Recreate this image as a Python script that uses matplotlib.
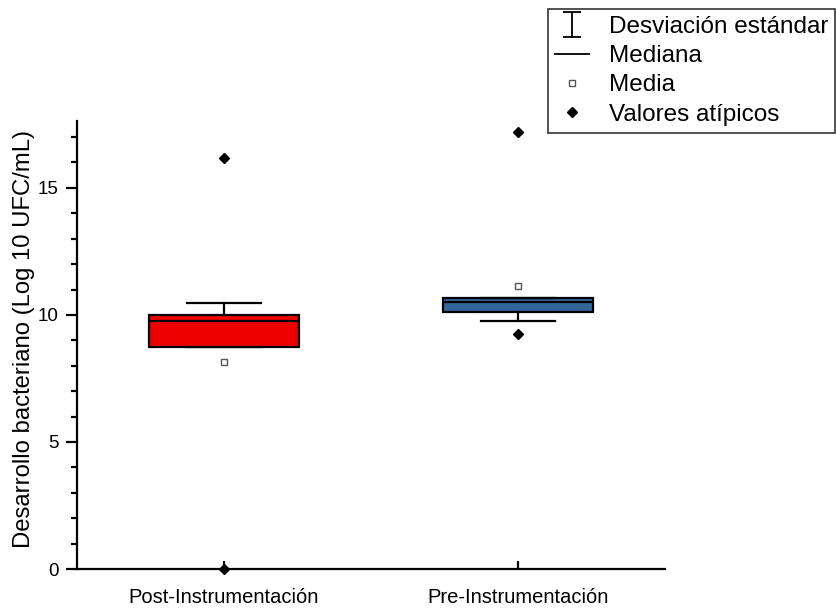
import matplotlib
matplotlib.use("Agg")
import matplotlib.pyplot as plt
from matplotlib.lines import Line2D
from matplotlib.path import Path
from matplotlib.ticker import MultipleLocator

plt.rcParams['font.family'] = ['Liberation Sans', 'DejaVu Sans']

# Datos
grupos = ["Post-Instrumentación", "Pre-Instrumentación"]
q1 = [8.73, 10.11]
q3 = [10.0, 10.66]
mediana = [9.76, 10.50]
media = [8.15, 11.12]
bigote_bajo = [8.73, 9.76]
bigote_alto = [10.45, 10.66]
atipicos = [[16.19, 0.0], [17.21, 9.26]]
colores = ["#EE0000", "#336699"]

fig = plt.figure(figsize=(8.37, 6.11), dpi=100)
ax = fig.add_axes([0.092, 0.0687, 0.7025, 0.734])

stats = []
for i in range(len(grupos)):
    stats.append(dict(label=grupos[i], q1=q1[i], q3=q3[i], med=mediana[i],
                      mean=media[i], whislo=bigote_bajo[i], whishi=bigote_alto[i],
                      fliers=atipicos[i]))

bp = ax.bxp(stats, positions=[1, 2], widths=0.51, patch_artist=True, showmeans=True,
            showfliers=True,
            boxprops=dict(edgecolor="black", linewidth=1.6),
            medianprops=dict(color="black", linewidth=1.6),
            whiskerprops=dict(color="black", linewidth=1.6),
            capprops=dict(color="black", linewidth=1.6),
            capwidths=0.25,
            meanprops=dict(marker="s", markersize=4.5, markerfacecolor="white",
                           markeredgecolor="#555555", markeredgewidth=1.0),
            flierprops=dict(marker="D", markersize=5, markerfacecolor="black",
                            markeredgecolor="black"))
for caja, c in zip(bp["boxes"], colores):
    caja.set_facecolor(c)
for f in bp["fliers"]:
    f.set_clip_on(False)

ax.set_xlim(0.5, 2.5)
ax.set_ylim(0, 17.65)
ax.yaxis.set_major_locator(MultipleLocator(5))
ax.yaxis.set_minor_locator(MultipleLocator(1))
ax.spines["top"].set_visible(False)
ax.spines["right"].set_visible(False)
ax.spines["left"].set_linewidth(1.6)
ax.spines["bottom"].set_linewidth(1.6)
ax.tick_params(axis="y", which="major", direction="out", length=8, width=1.6,
               labelsize=13.5, pad=5)
ax.tick_params(axis="y", which="minor", direction="out", length=4, width=1.6)
ax.tick_params(axis="x", which="major", direction="in", length=6, width=1.6,
               labelsize=14.5, pad=14)
ax.set_ylabel("Desarrollo bacteriano (Log 10 UFC/mL)", fontsize=17.2, labelpad=2)
ax.yaxis.label.set_y(0.513)

# Leyenda
barra = Path([(0, -1), (0, 1), (-0.72, 1), (0.72, 1), (-0.72, -1), (0.72, -1)],
             [Path.MOVETO, Path.LINETO, Path.MOVETO, Path.LINETO, Path.MOVETO, Path.LINETO])
manejadores = [
    Line2D([], [], ls="none", marker=barra, markersize=18, markerfacecolor="none",
           markeredgecolor="black", markeredgewidth=1.3),
    Line2D([], [], color="black", linewidth=1.3),
    Line2D([], [], ls="none", marker="s", markersize=4.5, markerfacecolor="white",
           markeredgecolor="#555555", markeredgewidth=1.0),
    Line2D([], [], ls="none", marker="D", markersize=5, markerfacecolor="black",
           markeredgecolor="black"),
]
etiquetas = ["Desviación estándar", "Mediana", "Media", "Valores atípicos"]
leg = fig.legend(manejadores, etiquetas, loc="upper right", bbox_to_anchor=(0.998, 0.986),
                 fontsize=17.5, frameon=True, fancybox=False, edgecolor="black",
                 handlelength=1.4, handletextpad=0.8, labelspacing=0.3,
                 borderpad=0.3, borderaxespad=0)
leg.get_frame().set_linewidth(1.2)

fig.savefig("out.png", dpi=100)
